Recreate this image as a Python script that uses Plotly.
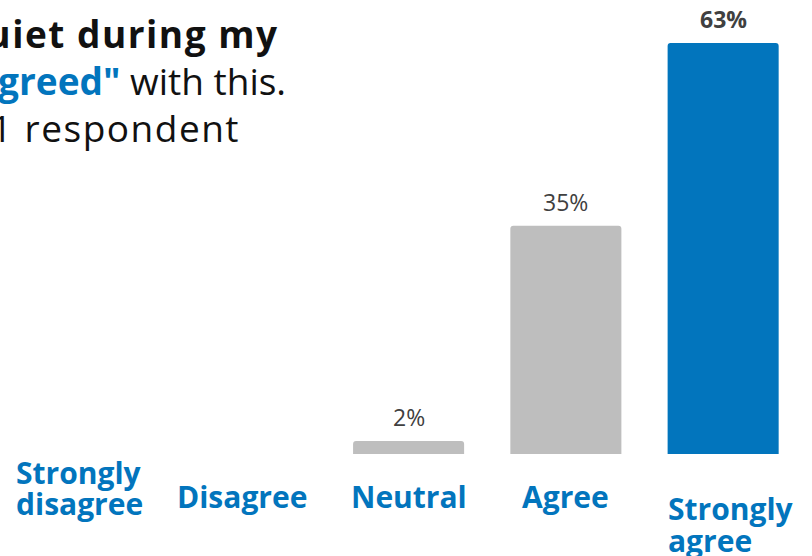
import plotly.graph_objects as go

# Survey responses
categories = ["Strongly disagree", "Disagree", "Neutral", "Agree", "Strongly agree"]
shares = [0, 0, 2, 35, 63]
value_labels = ["", "", "2%", "35%", "63%"]
axis_label_lines = [["Strongly", "disagree"], ["Disagree"], ["Neutral"], ["Agree"], ["Strongly", "agree"]]

BLUE = "#0275BD"
GRAY = "#BEBEBE"
TEXT = "#404040"

bar_colors = [GRAY, GRAY, GRAY, GRAY, BLUE]
idx = list(range(len(categories)))

fig = go.Figure()
fig.add_trace(go.Bar(
    x=idx,
    y=shares,
    width=0.706,
    marker=dict(color=bar_colors, line=dict(width=0)),
    hovertext=categories,
    hoverinfo="text+y",
))

annotations = []

# Value labels above the bars
for i, (v, lab) in enumerate(zip(shares, value_labels)):
    if not lab:
        continue
    bold = i == len(shares) - 1
    annotations.append(dict(
        x=i, y=v, xref="x", yref="y",
        text=f"<b>{lab}</b>" if bold else lab,
        showarrow=False, yanchor="bottom", yshift=6,
        font=dict(family="Open Sans", size=23, color=TEXT),
    ))

# Category labels under the baseline (pixel offsets from each category centre)
label_style = [
    dict(anchor="left", dx=-80, dy=[-18, -49]),
    dict(anchor="center", dx=-9, dy=[-42]),
    dict(anchor="center", dx=0, dy=[-42]),
    dict(anchor="center", dx=0, dy=[-42]),
    dict(anchor="left", dx=-57, dy=[-54, -86]),
]
for i, (lines, st) in enumerate(zip(axis_label_lines, label_style)):
    for line, dy in zip(lines, st["dy"]):
        annotations.append(dict(
            x=i, y=0, xref="x", yref="y",
            text=f"<b>{line}</b>",
            showarrow=False, yanchor="middle", xanchor=st["anchor"],
            xshift=st["dx"], yshift=dy,
            font=dict(family="Open Sans", size=30, color=BLUE),
        ))

# Headline block in the upper-left corner
def spaced(s, px):
    return f"<span style='letter-spacing:{px}px'>{s}</span>"

title_lines = [
    (f"<b>{spaced('It was quiet during my', 1.5)}</b>", 33, -171),
    (f"<b><span style='color:{BLUE}'>98% \"agreed\"</span></b> with this.", 80, -129),
    (spaced("Base: 51 respondent", 1.5), 127, -145),
]
for txt, ypix, dx in title_lines:
    annotations.append(dict(
        x=0, y=1, xref="paper", yref="paper",
        text=txt, showarrow=False,
        xanchor="left", yanchor="middle",
        xshift=dx, yshift=-ypix,
        font=dict(family="Open Sans", size=37, color="#111111"),
    ))

fig.update_layout(
    width=812, height=556,
    margin=dict(l=0, r=0, t=0, b=102),
    paper_bgcolor="white", plot_bgcolor="white",
    showlegend=False,
    barcornerradius=3,
    xaxis=dict(range=[-0.598, 4.565], visible=False, fixedrange=True),
    yaxis=dict(range=[0, 69.6], visible=False, fixedrange=True),
    annotations=annotations,
)

fig.write_html("out.html")
